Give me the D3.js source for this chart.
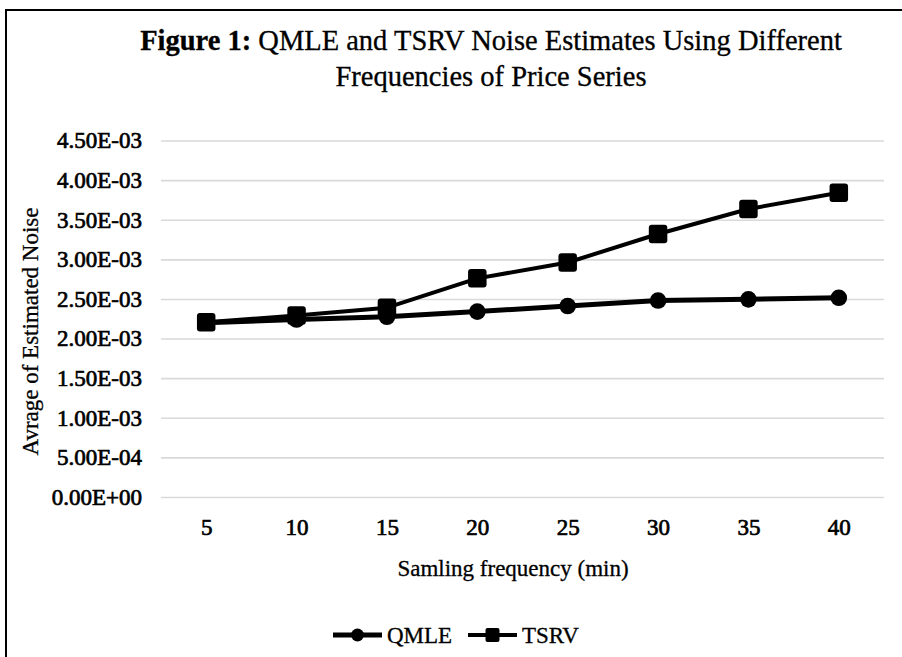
<!DOCTYPE html>
<html lang="en">

<head>
    <script src="https://cdn.jsdelivr.net/npm/d3@7"></script>
    <style>
        * {
            box-sizing: border-box;
        }

        body {
            margin: 0;
            background: white;
        }

        text {
            font-family: "Liberation Serif", "Times New Roman", serif;
            fill: black;
            stroke: black;
            stroke-width: 0.3px;
        }
    </style>
    <meta charset="UTF-8">
    <title>Figure 1</title>
</head>

<body>
    <svg id="svg1" width="902" height="657"></svg>
    <script>
        // data
        let frequencies = [5, 10, 15, 20, 25, 30, 35, 40];
        let qmleValues = [2.20e-3, 2.24e-3, 2.275e-3, 2.34e-3, 2.41e-3, 2.48e-3, 2.495e-3, 2.515e-3];
        let tsrvValues = [2.205e-3, 2.29e-3, 2.39e-3, 2.76e-3, 2.96e-3, 3.32e-3, 3.635e-3, 3.84e-3];
        let yTicks = [0, 0.5e-3, 1e-3, 1.5e-3, 2e-3, 2.5e-3, 3e-3, 3.5e-3, 4e-3, 4.5e-3];
        let seriesNames = ["QMLE", "TSRV"];

        let svgElement = d3.select("#svg1");

        let plotLeft = 161, plotRight = 884, plotTop = 140.5, plotBottom = 497;

        // outer frame (runs off the right and bottom edge in the original)
        svgElement.append("rect")
            .attr("x", 6)
            .attr("y", 10)
            .attr("width", 1000)
            .attr("height", 1000)
            .attr("fill", "none")
            .attr("stroke", "black")
            .attr("stroke-width", 2);

        // title
        let title = svgElement.append("text")
            .attr("x", 491)
            .attr("text-anchor", "middle")
            .attr("font-size", 28.5);
        title.append("tspan")
            .attr("x", 491)
            .attr("y", 50)
            .attr("font-weight", "bold")
            .text("Figure 1:");
        title.append("tspan")
            .text(" QMLE and TSRV Noise Estimates Using Different");
        title.append("tspan")
            .attr("x", 491)
            .attr("y", 86)
            .text("Frequencies of Price Series");

        let xScale = d3.scalePoint()
            .domain(frequencies)
            .range([plotLeft, plotRight])
            .padding(0.5);

        let yScale = d3.scaleLinear()
            .domain([0, 4.5e-3])
            .range([plotBottom, plotTop]);

        function formatSci(d) {
            let parts = d.toExponential(2).split("e");
            let exp = +parts[1];
            return parts[0] + "E" + (exp < 0 ? "-" : "+") + String(Math.abs(exp)).padStart(2, "0");
        }

        // y axis with grid lines
        let yAxis = svgElement.append("g")
            .attr("transform", "translate(" + plotLeft + ",0)")
            .call(d3.axisLeft(yScale)
                .tickValues(yTicks)
                .tickFormat(formatSci)
                .tickSizeInner(-(plotRight - plotLeft))
                .tickSizeOuter(0)
                .tickPadding(19));
        yAxis.select(".domain").remove();
        yAxis.selectAll("line")
            .attr("stroke", "#d9d9d9")
            .attr("stroke-width", 1.6);
        yAxis.selectAll("text")
            .attr("font-size", 23)
            .attr("font-family", "Liberation Serif")
            .attr("fill", "black")
            .style("stroke-width", "0.7px");

        // x axis labels
        let xAxis = svgElement.append("g")
            .attr("transform", "translate(0," + plotBottom + ")")
            .call(d3.axisBottom(xScale)
                .tickSize(0)
                .tickPadding(22));
        xAxis.select(".domain").remove();
        xAxis.selectAll("text")
            .attr("font-size", 23)
            .attr("font-family", "Liberation Serif")
            .attr("fill", "black")
            .style("stroke-width", "0.7px");

        // axis titles
        svgElement.append("text")
            .attr("x", 513)
            .attr("y", 576)
            .attr("text-anchor", "middle")
            .attr("font-size", 23)
            .text("Samling frequency (min)");

        svgElement.append("text")
            .attr("transform", "translate(37.5,331.5) rotate(-90)")
            .attr("text-anchor", "middle")
            .attr("font-size", 23)
            .text("Avrage of Estimated Noise");

        let line = d3.line()
            .x((d, i) => xScale(frequencies[i]))
            .y(d => yScale(d));

        // QMLE series
        svgElement.append("path")
            .datum(qmleValues)
            .attr("d", line)
            .attr("fill", "none")
            .attr("stroke", "black")
            .attr("stroke-width", 5)
            .attr("stroke-linejoin", "round");

        svgElement.append("g")
            .selectAll("circle")
            .data(qmleValues)
            .join("circle")
            .attr("cx", (d, i) => xScale(frequencies[i]))
            .attr("cy", d => yScale(d))
            .attr("r", 8.3)
            .attr("fill", "black");

        // TSRV series
        svgElement.append("path")
            .datum(tsrvValues)
            .attr("d", line)
            .attr("fill", "none")
            .attr("stroke", "black")
            .attr("stroke-width", 4)
            .attr("stroke-linejoin", "round");

        let squareSize = 18.5;
        svgElement.append("g")
            .selectAll("rect")
            .data(tsrvValues)
            .join("rect")
            .attr("x", (d, i) => xScale(frequencies[i]) - squareSize / 2)
            .attr("y", d => yScale(d) - squareSize / 2)
            .attr("width", squareSize)
            .attr("height", squareSize)
            .attr("rx", 3)
            .attr("fill", "black");

        // legend
        let legendY = 635;
        let legendItems = [
            { name: seriesNames[0], x: 333, shape: "circle", width: 5 },
            { name: seriesNames[1], x: 468, shape: "square", width: 4 }
        ];

        legendItems.forEach(item => {
            let g = svgElement.append("g");
            g.append("line")
                .attr("x1", item.x)
                .attr("x2", item.x + 49)
                .attr("y1", legendY)
                .attr("y2", legendY)
                .attr("stroke", "black")
                .attr("stroke-width", item.width);
            if (item.shape === "circle") {
                g.append("circle")
                    .attr("cx", item.x + 24.5)
                    .attr("cy", legendY)
                    .attr("r", 6.5)
                    .attr("fill", "black");
            } else {
                g.append("rect")
                    .attr("x", item.x + 24.5 - 7)
                    .attr("y", legendY - 7)
                    .attr("width", 14)
                    .attr("height", 14)
                    .attr("rx", 2)
                    .attr("fill", "black");
            }
            g.append("text")
                .attr("x", item.x + 54)
                .attr("y", legendY + 8)
                .attr("font-size", 23)
                .text(item.name);
        });
    </script>
</body>

</html>
